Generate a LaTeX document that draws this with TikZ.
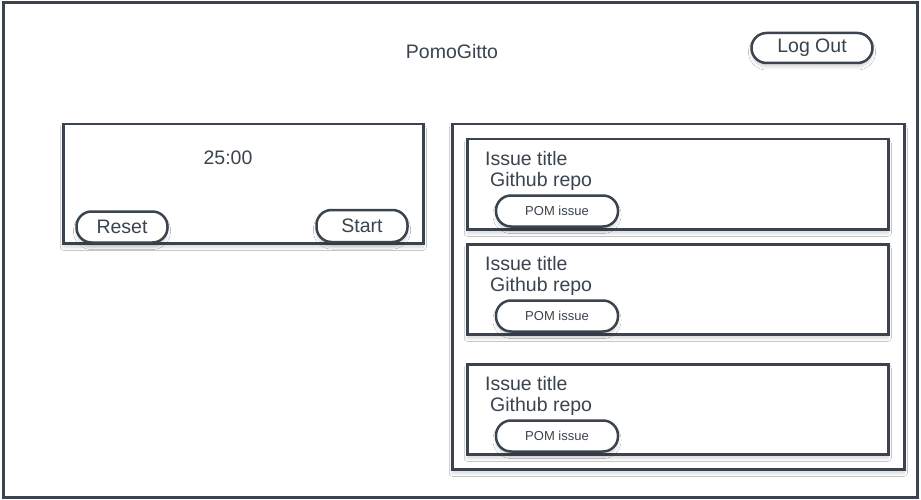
\documentclass[tikz,border=0pt]{standalone}
\usepackage{fontspec}
\setmainfont{Liberation Sans}
\usetikzlibrary{shadows.blur}
\definecolor{wire}{RGB}{58,67,78}

\tikzset{
  frame/.style={draw=wire, line width=2.5pt, fill=white},
  soft/.style={blur shadow={shadow blur steps=8, shadow xshift=0pt, shadow yshift=-4pt, shadow blur radius=3pt, shadow opacity=16}},
  pill/.style={draw=wire, line width=2.5pt, fill=white, rounded corners=15pt, minimum height=31pt, inner sep=0pt, soft},
  txt/.style={inner sep=0pt},
  small/.style={font=\fontsize{13}{15}\selectfont}
}

\begin{document}
\begin{tikzpicture}[x=1pt, y=-1pt, text=wire, font=\fontsize{19.5}{22}\selectfont]
			\useasboundingbox (0,0) rectangle (921,500);
			\node[frame, line width=3pt, minimum width=914pt, minimum height=494pt] (page) at (460,250) {};
			\node[txt] (appname) at (452,52) {PomoGitto};
			\node[pill, minimum width=121pt, minimum height=30pt] (logout) at (812,48) {Log Out};
			\node[frame, soft, anchor=north west, minimum width=360pt, minimum height=119pt] (timer) at (62,123) {};
			\node[txt] (clock) at (228,158) {25:00};
			\node[pill, minimum width=91pt] (reset) at (122,227) {Reset};
			\node[pill, minimum width=91pt, minimum height=32pt] (start) at (362,226) {Start};
			\node[frame, soft, anchor=north west, minimum width=452pt, minimum height=345pt] (issues) at (451,123) {};
			\foreach \i/\t in {1/138,2/243,3/363}{
				\node[frame, soft, anchor=north west, minimum width=421pt, minimum height=90pt] (card\i) at (466,\t) {};
				\node[txt, anchor=base west] (title\i) at (485,\t+27) {Issue title};
				\node[txt, anchor=base west] (repo\i) at (490,\t+48) {Github repo};
				\node[pill, small, minimum width=122pt] (pom\i) at (557,\t+73) {POM issue};
			}
			\end{tikzpicture}
\end{document}
